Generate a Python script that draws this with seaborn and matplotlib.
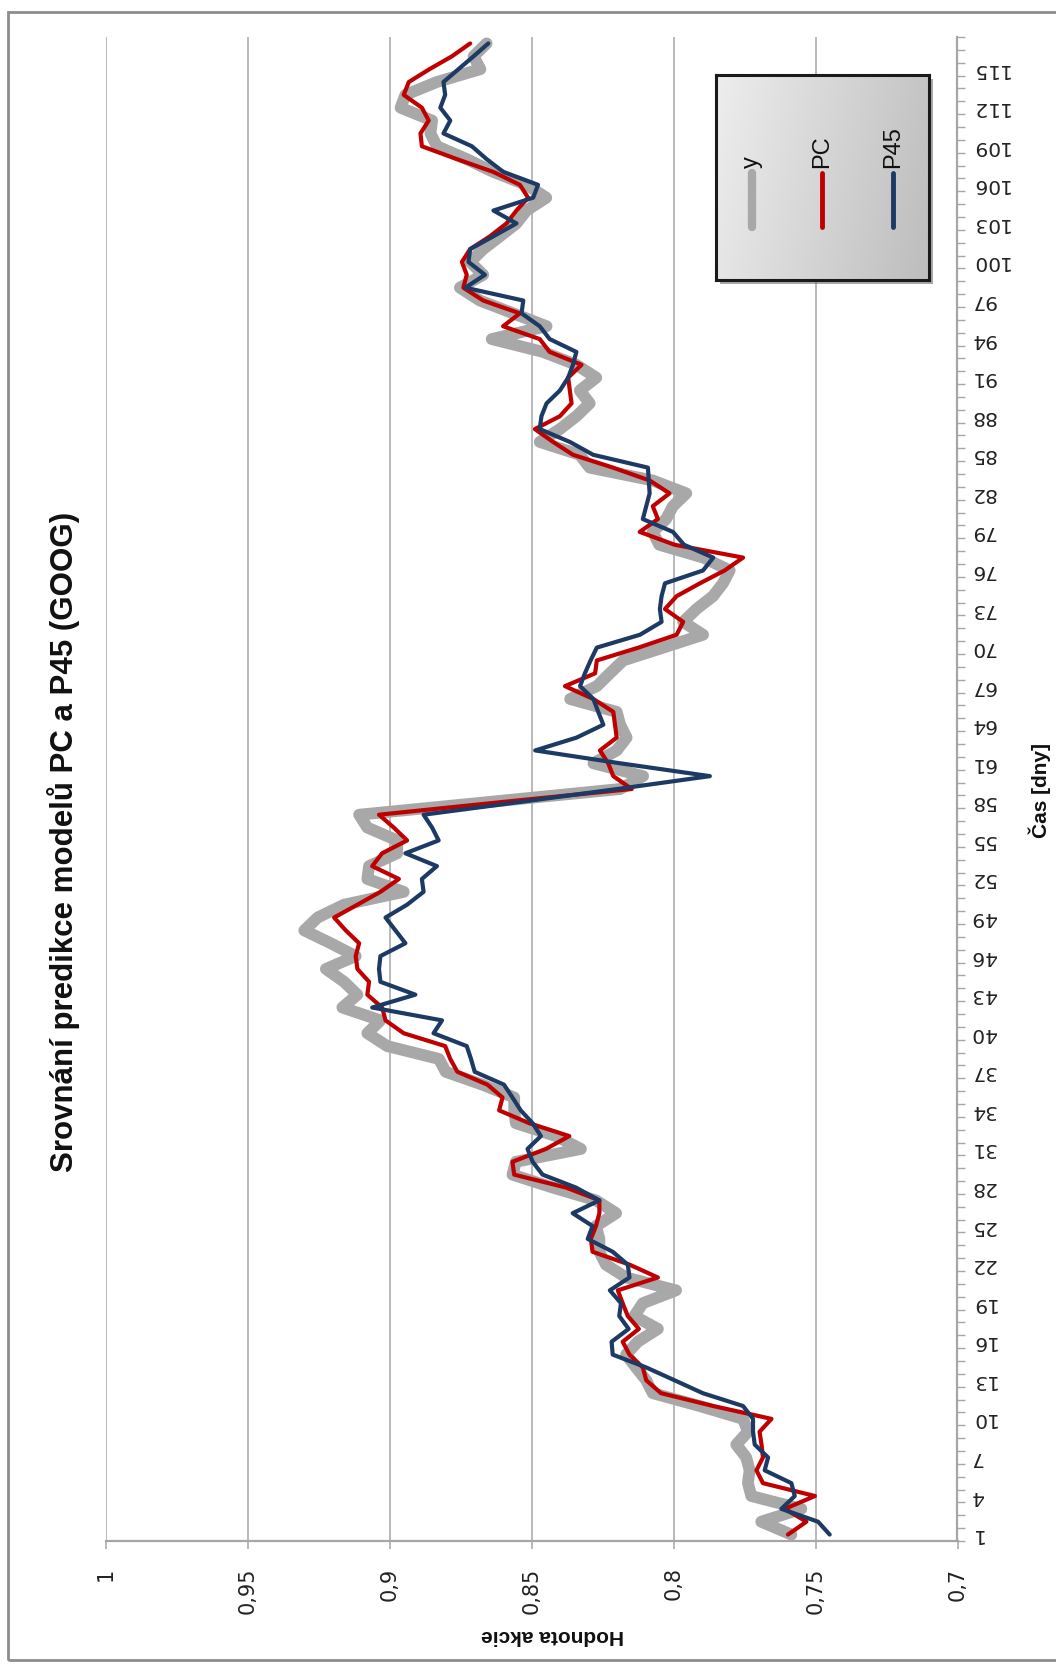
import numpy as np
import pandas as pd
import matplotlib
matplotlib.use("Agg")
import matplotlib.pyplot as plt
from matplotlib.patches import Rectangle
import seaborn as sns

# ---------------- data ----------------
days = list(range(1, 118))

y_actual = [
    0.7585, 0.7691, 0.7550, 0.7726, 0.7738, 0.7732, 0.7744, 0.7779, 0.7738, 0.7755,
    0.7908, 0.8073, 0.8096, 0.8132, 0.8167, 0.8126, 0.8055, 0.8138, 0.8108, 0.7991,
    0.8167, 0.8238, 0.8261, 0.8261, 0.8273, 0.8202, 0.8273, 0.8426, 0.8567, 0.8555,
    0.8326, 0.8414, 0.8555, 0.8561, 0.8561, 0.8673, 0.8802, 0.8826, 0.9008, 0.9078,
    0.9032, 0.9166, 0.9113, 0.9160, 0.9224, 0.9119, 0.9207, 0.9300, 0.9253, 0.9160,
    0.8950, 0.9078, 0.9072, 0.8973, 0.8973, 0.9078, 0.9107, 0.8645, 0.8188, 0.8107,
    0.8282, 0.8200, 0.8165, 0.8188, 0.8200, 0.8364, 0.8270, 0.8224, 0.8177, 0.8036,
    0.7896, 0.7966, 0.7919, 0.7861, 0.7826, 0.7802, 0.7895, 0.8050, 0.8073, 0.8026,
    0.8002, 0.7955, 0.8073, 0.8295, 0.8330, 0.8471, 0.8400, 0.8342, 0.8295, 0.8330,
    0.8272, 0.8342, 0.8459, 0.8640, 0.8447, 0.8564, 0.8682, 0.8752, 0.8670, 0.8716,
    0.8670, 0.8611, 0.8553, 0.8518, 0.8448, 0.8518, 0.8634, 0.8728, 0.8833, 0.8856,
    0.8850, 0.8961, 0.8944, 0.8833, 0.8680, 0.8704, 0.8658,
]

pc_pred = [
    0.7597, 0.7532, 0.7608, 0.7502, 0.7685, 0.7708, 0.7685, 0.7690, 0.7697, 0.7655,
    0.7860, 0.8044, 0.8096, 0.8108, 0.8155, 0.8179, 0.8122, 0.8161, 0.8179, 0.8196,
    0.8055, 0.8155, 0.8285, 0.8291, 0.8273, 0.8261, 0.8261, 0.8379, 0.8561, 0.8567,
    0.8449, 0.8367, 0.8508, 0.8614, 0.8602, 0.8655, 0.8761, 0.8786, 0.8804, 0.8950,
    0.9014, 0.9026, 0.9078, 0.9072, 0.9113, 0.9119, 0.9107, 0.9154, 0.9195, 0.9113,
    0.9032, 0.8967, 0.9061, 0.9026, 0.8938, 0.8985, 0.9037, 0.8598, 0.8147, 0.8212,
    0.8230, 0.8259, 0.8200, 0.8206, 0.8212, 0.8282, 0.8382, 0.8276, 0.8270, 0.8123,
    0.7989, 0.7966, 0.8030, 0.7989, 0.7907, 0.7820, 0.7755, 0.7996, 0.8119, 0.8055,
    0.8073, 0.8014, 0.8084, 0.8213, 0.8354, 0.8424, 0.8488, 0.8400, 0.8359, 0.8365,
    0.8371, 0.8324, 0.8436, 0.8471, 0.8600, 0.8541, 0.8670, 0.8740, 0.8728, 0.8745,
    0.8716, 0.8646, 0.8588, 0.8553, 0.8512, 0.8541, 0.8634, 0.8763, 0.8886, 0.8891,
    0.8862, 0.8886, 0.8950, 0.8932, 0.8859, 0.8780, 0.8716,
]

p45_pred = [
    0.7450, 0.7491, 0.7620, 0.7573, 0.7585, 0.7679, 0.7667, 0.7714, 0.7720, 0.7720,
    0.7755, 0.7897, 0.7996, 0.8096, 0.8214, 0.8218, 0.8158, 0.8191, 0.8185, 0.8224,
    0.8155, 0.8161, 0.8214, 0.8302, 0.8285, 0.8355, 0.8261, 0.8344, 0.8461, 0.8496,
    0.8514, 0.8467, 0.8496, 0.8538, 0.8567, 0.8597, 0.8700, 0.8713, 0.8728, 0.8845,
    0.8815, 0.9061, 0.8909, 0.9032, 0.9037, 0.9032, 0.8944, 0.8979, 0.9014, 0.8938,
    0.8880, 0.8886, 0.8833, 0.8944, 0.8827, 0.8850, 0.8880, 0.8537, 0.8197, 0.7872,
    0.8188, 0.8487, 0.8341, 0.8247, 0.8265, 0.8282, 0.8329, 0.8312, 0.8292, 0.8270,
    0.8118, 0.8042, 0.8048, 0.8042, 0.8030, 0.7896, 0.7860, 0.7963, 0.8002, 0.8108,
    0.8096, 0.8084, 0.8087, 0.8090, 0.8283, 0.8365, 0.8471, 0.8465, 0.8447, 0.8400,
    0.8371, 0.8354, 0.8342, 0.8436, 0.8471, 0.8535, 0.8529, 0.8733, 0.8664, 0.8722,
    0.8716, 0.8634, 0.8553, 0.8634, 0.8494, 0.8477, 0.8599, 0.8658, 0.8710, 0.8810,
    0.8786, 0.8821, 0.8804, 0.8810, 0.8757, 0.8704, 0.8652,
]

value_ticks = [1.0, 0.95, 0.9, 0.85, 0.8, 0.75, 0.7]
value_labels = ["1", "0,95", "0,9", "0,85", "0,8", "0,75", "0,7"]
day_ticks = list(range(1, 116, 3))
day_labels = [str(d) for d in day_ticks]

title = "Srovnání predikce modelů PC a P45 (GOOG)"
xlabel = "Hodnota akcie"
ylabel = "Čas [dny]"
series_names = ["y", "PC", "P45"]
series_colors = ["#a8a8a8", "#c00000", "#1c3a63"]

df = pd.DataFrame({"day": days, "y": y_actual, "PC": pc_pred, "P45": p45_pred})

# ---------------- style ----------------
sns.set_theme(style="white")
plt.rcParams["font.family"] = ["DejaVu Sans"]
narrow = ["Liberation Sans Narrow", "Liberation Sans", "DejaVu Sans"]

W, H = 1056, 1666
fig = plt.figure(figsize=(W / 100, H / 100), dpi=100)
fig.patch.set_facecolor("white")


def fx(px):
    return px / W


def fy(py):
    return 1 - py / H


L, R, T, B = 105.5, 957.5, 37, 1541
ax = fig.add_axes([fx(L), fy(B), (R - L) / W, (B - T) / H])
ax.set_facecolor("none")

lw_map = {"y": 8.5, "PC": 3.0, "P45": 3.0}
for name, col in zip(series_names, series_colors):
    sns.lineplot(data=df, x=name, y="day", orient="y", sort=False, estimator=None,
                 color=col, linewidth=lw_map[name], ax=ax, legend=False,
                 solid_joinstyle="round", solid_capstyle="round", zorder=3)

ax.set_xlim(1.0, 0.7)
ax.set_ylim(0.5, 117.5)
ax.set_xlabel("")
ax.set_ylabel("")

grid_col = "#a6a6a6"
ax.set_xticks(value_ticks)
ax.set_xticklabels(value_labels, rotation=90, ha="center", va="top")
ax.tick_params(axis="x", which="major", length=6, width=1.1, color=grid_col,
               pad=13, labelsize=15, labelcolor="#222222", bottom=True)
ax.grid(axis="x", color=grid_col, linewidth=1.1)
ax.grid(axis="y", visible=False)

ax.yaxis.tick_right()
ax.set_yticks(day_ticks)
ax.set_yticklabels(day_labels, rotation=180, ha="left", va="center")
ax.set_yticks(np.arange(0.5, 118, 1.0), minor=True)
ax.tick_params(axis="y", which="major", length=0, pad=9, labelsize=14.5,
               labelcolor="#222222", right=True, left=False)
ax.tick_params(axis="y", which="minor", length=6, width=1.0, color=grid_col,
               right=True, left=False)

for s in ["top", "left"]:
    ax.spines[s].set_visible(False)
for s in ["bottom", "right"]:
    ax.spines[s].set_visible(True)
    ax.spines[s].set_color(grid_col)
    ax.spines[s].set_linewidth(1.6)

# ---------------- texts ----------------
fig.text(fx(64), fy(842), title, rotation=90, ha="center", va="center",
         fontsize=22.5, fontweight="bold", family=narrow, color="#111111")
fig.text(fx(552), fy(1636), xlabel, rotation=180, ha="center", va="center",
         fontsize=15, fontweight="bold", family=narrow, color="#111111")
fig.text(fx(1040), fy(791), ylabel, rotation=90, ha="center", va="center",
         fontsize=15, fontweight="bold", family=narrow, color="#111111")

# ---------------- outer border ----------------
fig.patches.append(Rectangle((fx(8), fy(1660)), fx(1070) - fx(8), fy(12) - fy(1660),
                             transform=fig.transFigure, fill=False,
                             edgecolor="#8c8c8c", linewidth=2.0, zorder=10))

# ---------------- legend ----------------
lx0, lx1, ly0, ly1 = 716, 929, 75, 280
shadow = Rectangle((fx(lx0 + 4), fy(ly1 + 4)), (lx1 - lx0) / W, (ly1 - ly0) / H,
                   transform=fig.transFigure, facecolor="#6e6e6e", alpha=0.6,
                   edgecolor="none", zorder=5, clip_on=False)
ax.add_patch(shadow)

lax = fig.add_axes([fx(lx0), fy(ly1), (lx1 - lx0) / W, (ly1 - ly0) / H])
grad = np.linspace(0, 1, 256)
gx, gy = np.meshgrid(grad, np.linspace(0, 1, 64))
shade = 0.93 - 0.16 * gx - 0.03 * (1 - gy)
lax.imshow(shade, cmap="gray", vmin=0, vmax=1, aspect="auto",
           extent=[0, 1, 0, 1], origin="lower", interpolation="bicubic")
lax.set_xlim(0, 1)
lax.set_ylim(0, 1)
lax.set_xticks([])
lax.set_yticks([])
for s in lax.spines.values():
    s.set_color("#1a1a1a")
    s.set_linewidth(2.2)

leg_x = [(752 - lx0) / (lx1 - lx0), (822 - lx0) / (lx1 - lx0), (893 - lx0) / (lx1 - lx0)]
leg_lw = [6.0, 3.5, 3.5]
y_top = (ly1 - 173) / (ly1 - ly0)
y_bot = (ly1 - 227) / (ly1 - ly0)
y_txt = (ly1 - 168) / (ly1 - ly0)
for xx, name, col, lw in zip(leg_x, series_names, series_colors, leg_lw):
    lax.plot([xx, xx], [y_bot, y_top], color=col, linewidth=lw, solid_capstyle="round")
    lax.text(xx, y_txt, name, rotation=90, ha="center", va="bottom",
             fontsize=17, family=narrow, color="#111111")

fig.savefig("out.png", dpi=100)
